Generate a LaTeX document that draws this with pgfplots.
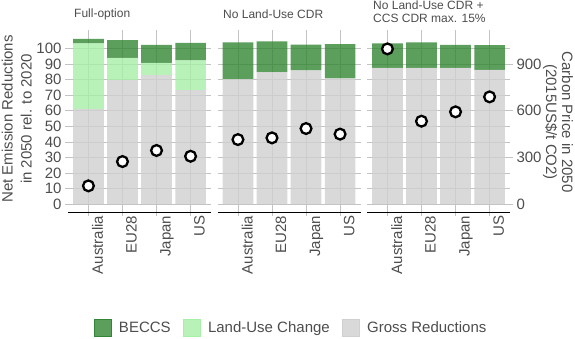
\documentclass[border=0pt]{standalone}
\usepackage{pgfplots}
\pgfplotsset{compat=1.18}
\usepackage{pgfplotstable}
\usepackage{fontspec}
\setmainfont{Liberation Sans}
\definecolor{beccs}{RGB}{51,134,51}
\definecolor{luc}{RGB}{166,239,166}
\definecolor{gross}{RGB}{208,208,208}
\definecolor{gridc}{RGB}{195,195,195}
\definecolor{txt}{RGB}{77,77,77}

% Full-option
\pgfplotstableread{
x gross luc beccs price
1 61.0 42.2 3.0 118
2 79.6 14.4 11.3 274
3 82.8 8.0 11.5 345
4 73.2 19.1 11.3 308
}\full
% No Land-Use CDR
\pgfplotstableread{
x gross luc beccs price
1 80.3 0 23.5 415
2 84.8 0 19.7 426
3 85.9 0 16.6 486
4 80.7 0 22.1 450
}\nolu
% No Land-Use CDR + CCS CDR max. 15%
\pgfplotstableread{
x gross luc beccs price
1 87.5 0 15.7 997
2 87.5 0 16.3 533
3 87.5 0 14.8 593
4 86.3 0 15.8 689
}\noccs

\newcommand{\fs}[1]{\fontsize{#1bp}{#1bp}\selectfont}

\pgfplotsset{
  common/.style={
    width=143bp, height=182bp, scale only axis, anchor=south west,
    xmin=0.4, xmax=4.6,
    /pgf/number format/assume math mode=true,
  },
  barpanel/.style={
    common, ymin=-5.3, ymax=111.5,
    xtick={1,2,3,4}, xticklabels={Australia,EU28,Japan,US},
    ytick={0,10,...,100},
    grid=major, major grid style={draw=gridc, line width=0.8bp},
    axis x line*=bottom, axis y line*=left,
    x axis line style={draw=black, line width=1.1bp, -},
    y axis line style={draw=none},
    tick style={draw=gridc, line width=0.8bp},
    tick align=outside, major tick length=3bp,
    xticklabel style={font=\fs{15}, text=txt, xshift=3.5bp, rotate=90, anchor=north east, inner sep=0pt},
    yticklabel style={font=\fs{15}, text=txt},
    ybar stacked, bar width=0.9,
  },
  ptpanel/.style={common, ymin=-53, ymax=1115},
  pts/.style={only marks, mark=*, mark size=5.4bp, mark options={fill=white, draw=black, line width=2.3bp}},
}

\begin{document}
\begin{tikzpicture}[x=1bp,y=1bp]
\useasboundingbox (0,0) rectangle (575,338);

% ---------- Panel 1 ----------
\begin{axis}[barpanel, at={(68bp,125.5bp)}]
\addplot[fill=gross, fill opacity=0.8, draw=none] table[x=x,y=gross]{\full};
\addplot[fill=luc, fill opacity=0.8, draw=none] table[x=x,y=luc]{\full};
\addplot[fill=beccs, fill opacity=0.8, draw=none] table[x=x,y=beccs]{\full};
\end{axis}
\begin{axis}[ptpanel, hide axis, at={(68bp,125.5bp)}]
\addplot[pts] table[x=x,y=price]{\full};
\end{axis}

% ---------- Panel 2 ----------
\begin{axis}[barpanel, at={(217.5bp,125.5bp)}, yticklabels={}, ytick style={draw=none}]
\addplot[fill=gross, fill opacity=0.8, draw=none] table[x=x,y=gross]{\nolu};
\addplot[fill=luc, fill opacity=0.8, draw=none] table[x=x,y=luc]{\nolu};
\addplot[fill=beccs, fill opacity=0.8, draw=none] table[x=x,y=beccs]{\nolu};
\end{axis}
\begin{axis}[ptpanel, hide axis, at={(217.5bp,125.5bp)},
  legend style={at={(0.514,-0.635)}, anchor=center, draw=none, fill=none,
    font=\fs{15}, text=txt, legend columns=3,
    /tikz/every odd column/.append style={column sep=6bp},
    /tikz/every even column/.append style={column sep=10bp}}]
\addlegendimage{legend image code/.code={\fill[beccs, fill opacity=0.8] (0bp,-8.5bp) rectangle (17bp,8.5bp);}}
\addlegendentry{BECCS}
\addlegendimage{legend image code/.code={\fill[luc, fill opacity=0.8] (0bp,-8.5bp) rectangle (17bp,8.5bp);}}
\addlegendentry{Land-Use Change}
\addlegendimage{legend image code/.code={\fill[gross, fill opacity=0.8] (0bp,-8.5bp) rectangle (17bp,8.5bp);}}
\addlegendentry{Gross Reductions}
\addplot[pts, forget plot] table[x=x,y=price]{\nolu};
\end{axis}

% ---------- Panel 3 ----------
\begin{axis}[barpanel, at={(367bp,125.5bp)}, yticklabels={}, ytick style={draw=none}]
\addplot[fill=gross, fill opacity=0.8, draw=none] table[x=x,y=gross]{\noccs};
\addplot[fill=luc, fill opacity=0.8, draw=none] table[x=x,y=luc]{\noccs};
\addplot[fill=beccs, fill opacity=0.8, draw=none] table[x=x,y=beccs]{\noccs};
\end{axis}
\begin{axis}[ptpanel, at={(367bp,125.5bp)},
  axis x line=none, axis y line*=right, y axis line style={draw=none},
  xtick=\empty, ytick={0,300,600,900},
  tick align=outside, major tick length=3bp,
  ytick style={draw=gridc, line width=0.8bp},
  yticklabel style={font=\fs{15}, text=txt}]
\addplot[pts] table[x=x,y=price]{\noccs};
\end{axis}

% ---------- strip titles ----------
\node[anchor=base west, font=\fs{12}, text=txt, inner sep=0pt] at (74,320.5) {Full-option};
\node[anchor=base west, font=\fs{12}, text=txt, inner sep=0pt] at (223,320) {No Land-Use CDR};
\node[anchor=base west, font=\fs{12}, text=txt, inner sep=0pt] at (373,328.8) {No Land-Use CDR +};
\node[anchor=base west, font=\fs{12}, text=txt, inner sep=0pt] at (373,315.3) {CCS CDR max. 15\%};

% ---------- axis titles ----------
\node[rotate=90, anchor=base, font=\fs{15}, text=txt, inner sep=0pt] at (12.5,219) {Net Emission Reductions};
\node[rotate=90, anchor=base, font=\fs{15}, text=txt, inner sep=0pt] at (31.5,219) {in 2050 rel. to 2020};
\node[rotate=-90, anchor=base, font=\fs{15}, text=txt, inner sep=0pt] at (562,216) {Carbon Price in 2050};
\node[rotate=-90, anchor=base, font=\fs{15}, text=txt, inner sep=0pt] at (546,216) {(2015US\$/t CO2)};
\end{tikzpicture}
\end{document}
